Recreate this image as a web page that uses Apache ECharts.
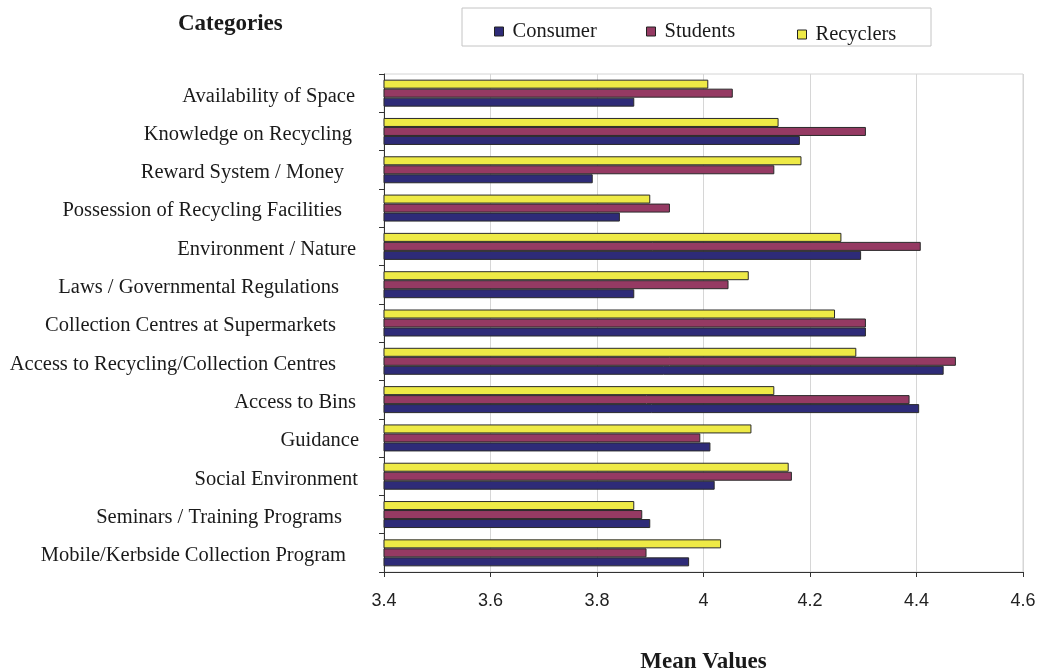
<!DOCTYPE html>
<html>
<head>
<meta charset="utf-8">
<title>Mean Values by Category</title>
<script src="https://cdn.jsdelivr.net/npm/echarts@6/dist/echarts.min.js"></script>
<style>
  html, body { margin: 0; padding: 0; background: #ffffff; }
  #chart { width: 1039px; height: 671px; }
</style>
</head>
<body>
<div id="chart"></div>
<script>
// Survey categories, top to bottom
const categories = [
  'Availability of Space',
  'Knowledge on Recycling',
  'Reward System / Money',
  'Possession of Recycling Facilities',
  'Environment / Nature',
  'Laws / Governmental Regulations',
  'Collection Centres at Supermarkets',
  'Access to Recycling/Collection Centres',
  'Access to Bins',
  'Guidance',
  'Social Environment',
  'Seminars / Training Programs',
  'Mobile/Kerbside Collection Program'
];

// Mean values per respondent group
const consumer  = [3.870, 4.181, 3.792, 3.843, 4.296, 3.870, 4.305, 4.451, 4.405, 4.013, 4.021, 3.900, 3.973];
const students  = [4.055, 4.305, 4.133, 3.937, 4.408, 4.047, 4.305, 4.474, 4.387, 3.994, 4.166, 3.885, 3.893];
const recyclers = [4.009, 4.141, 4.184, 3.900, 4.259, 4.085, 4.247, 4.287, 4.133, 4.090, 4.160, 3.870, 4.033];

const seriesNames = ['Consumer', 'Students', 'Recyclers'];

// Value axis range
const axisMin = 3.4;
const axisMax = 4.6;
const axisStep = 0.2;

// Extra right-hand spacing of each category label (layout only)
const labelIndent = [4, 7, 15, 17, 3, 20, 23, 23, 3, 0, 1, 17, 13];

const serif = "'Liberation Serif', 'Times New Roman', serif";
const sans = "'Liberation Sans', Arial, sans-serif";
const colors = { Consumer: '#2e2b78', Students: '#953a63', Recyclers: '#eeea46' };

const rich = {};
labelIndent.forEach((p, i) => {
  rich['c' + i] = { fontFamily: serif, fontSize: 20.5, color: '#1a1a1a', padding: [6, p, 0, 0] };
});

const chart = echarts.init(document.getElementById('chart'), null, { renderer: 'canvas' });

function makeLegend(name, left, top) {
  return {
    data: [name],
    left: left,
    top: top,
    orient: 'horizontal',
    icon: 'rect',
    itemWidth: 9,
    itemHeight: 9,
    padding: 0,
    selectedMode: false,
    itemStyle: { borderColor: '#222', borderWidth: 1 },
    textStyle: { fontFamily: serif, fontSize: 20.5, color: '#1a1a1a', padding: [0, 0, 0, 4] }
  };
}

function makeSeries(name, values) {
  return {
    name: name,
    type: 'bar',
    data: values,
    barWidth: 9,
    barGap: '0%',
    itemStyle: { color: colors[name], borderColor: '#2a2a2a', borderWidth: 1 },
    emphasis: { disabled: true },
    animation: false
  };
}

const option = {
  backgroundColor: '#ffffff',
  animation: false,
  graphic: [
    {
      type: 'rect',
      shape: { x: 462, y: 8, width: 469, height: 38 },
      style: { fill: '#ffffff', stroke: '#c4c4c4', lineWidth: 1 },
      z: -1
    },
    {
      type: 'text',
      left: 178,
      top: 13,
      style: { text: 'Categories', font: 'bold 23px ' + serif, fill: '#1a1a1a' }
    }
  ],
  legend: [
    makeLegend('Consumer', 494, 21),
    makeLegend('Students', 646, 21),
    makeLegend('Recyclers', 797, 24)
  ],
  grid: {
    left: 384,
    right: 16,
    top: 74,
    bottom: 99,
    outerBoundsMode: 'none',
    containLabel: false,
    show: true,
    borderColor: '#d4d4d4',
    borderWidth: 1,
    backgroundColor: 'transparent'
  },
  xAxis: {
    type: 'value',
    min: axisMin,
    max: axisMax,
    interval: axisStep,
    name: 'Mean Values',
    nameLocation: 'middle',
    nameGap: 79,
    nameTextStyle: { fontFamily: serif, fontWeight: 'bold', fontSize: 23, color: '#1a1a1a' },
    axisLine: { show: true, lineStyle: { color: '#333', width: 1 } },
    axisTick: { show: true, length: 5, lineStyle: { color: '#333' } },
    axisLabel: { fontFamily: sans, fontSize: 18, color: '#222', margin: 20 },
    splitLine: { show: true, lineStyle: { color: '#d6d6d6', width: 1 } }
  },
  yAxis: {
    type: 'category',
    data: categories,
    inverse: true,
    axisLine: { show: true, lineStyle: { color: '#333', width: 1 } },
    axisTick: { show: true, length: 5, lineStyle: { color: '#333' } },
    axisLabel: {
      margin: 25,
      formatter: (value, idx) => '{c' + idx + '|' + value + '}',
      rich: rich
    },
    splitLine: { show: false }
  },
  series: [
    makeSeries('Recyclers', recyclers),
    makeSeries('Students', students),
    makeSeries('Consumer', consumer)
  ]
};

chart.setOption(option);
</script>
</body>
</html>
